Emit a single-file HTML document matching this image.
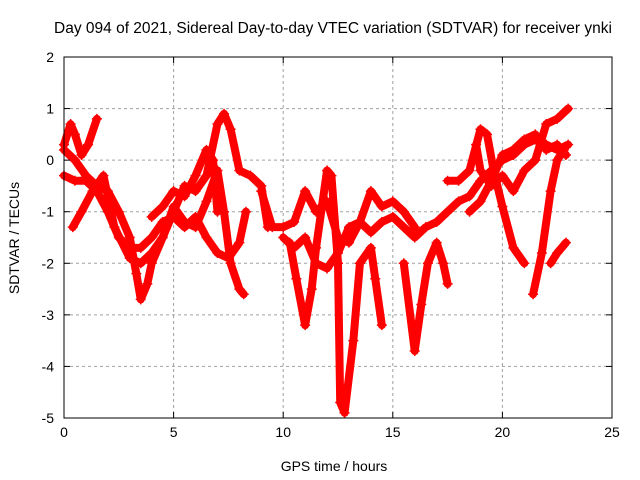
<!DOCTYPE html>
<html><head><meta charset="utf-8"><style>
body{margin:0;background:#fff}
svg{display:block;font-family:"Liberation Sans",sans-serif}
</style></head><body>
<svg id="chart" width="640" height="480">
<text x="333" y="33" text-anchor="middle" font-size="15.5">Day 094 of 2021, Sidereal Day-to-day VTEC variation (SDTVAR) for receiver ynki</text>
<text x="334" y="471" text-anchor="middle" font-size="14">GPS time / hours</text>
<text transform="translate(19,238) rotate(-90)" text-anchor="middle" font-size="14">SDTVAR / TECUs</text>
<g id="grid"></g><g id="series"></g><g id="axes"></g>
</svg>
<script>
const xTicks=[0,5,10,15,20,25];
const yTicks=[2,1,0,-1,-2,-3,-4,-5];
const tracks=[
[[0,0.3],[0.3,0.7],[0.5,0.5],[0.8,0.1],[1.1,0.3],[1.5,0.8]],
[[0,0.2],[0.5,0],[1,-0.3],[1.5,-0.5],[2,-0.6],[2.5,-1],[3,-1.5],[3.3,-2.2],[3.5,-2.7],[3.8,-2.4],[4,-2],[4.5,-1.5],[5,-1],[5.5,-0.5],[6,-0.6],[6.5,-0.3],[7,0.7],[7.3,0.9],[7.6,0.6],[8,-0.2],[8.5,-0.3],[9,-0.5],[9.3,-1.3]],
[[0,-0.3],[0.5,-0.4],[1,-0.4],[1.5,-0.6],[2,-1],[2.5,-1.5],[3,-1.7],[3.5,-1.7],[4,-1.5],[4.5,-1.2],[5,-1.1],[5.5,-1.3],[6,-1.1],[6.5,-1.5],[7,-1.8],[7.5,-1.9],[8,-1.6],[8.3,-1]],
[[0.4,-1.3],[0.8,-1],[1.3,-0.6],[1.8,-0.3],[2.3,-1.3],[3,-1.9],[3.5,-2],[4,-1.8],[4.5,-1.5],[5,-0.9],[5.5,-1.2],[6,-1.3],[6.5,-0.8],[7,-0.2],[7.3,-1],[7.6,-2],[8,-2.5],[8.2,-2.6]],
[[4,-1.1],[4.5,-0.9],[5,-0.6],[5.5,-0.7],[6,-0.3],[6.5,0.2],[6.8,0],[7,-1]],
[[9,-0.6],[9.5,-1.3],[10,-1.3],[10.5,-1.2],[11,-0.6],[11.5,-1],[12,-0.8],[12.5,-1.5],[13,-1.6],[13.5,-1.2],[14,-1.4],[14.5,-1.2],[15,-1.1],[15.5,-1.3],[16,-1.5],[16.5,-1.3],[17,-1.2],[17.5,-1],[18,-0.8],[18.5,-0.7],[19,-0.4],[19.5,-0.2],[20,0],[20.5,0.1],[21,0.3],[21.5,0.4],[22,0.3],[22.5,0.2],[23,0.3]],
[[10.3,-1.6],[10.6,-2.3],[11,-3.2],[11.3,-2.5],[11.5,-1.7],[12,-0.2],[12.2,-0.3],[12.5,-2],[12.6,-4.7],[12.8,-4.9],[13.2,-3.5],[13.5,-2],[14,-1.7],[14.2,-2.3],[14.5,-3.2]],
[[15.5,-2],[16,-3.7],[16.3,-2.8],[16.6,-2],[17,-1.6],[17.3,-2],[17.5,-2.4]],
[[10,-1.5],[10.5,-1.7],[11,-1.5],[11.5,-2],[12,-2.1],[12.5,-1.8],[13,-1.3],[13.5,-1.2],[14,-0.6],[14.5,-0.9],[15,-0.8],[15.5,-1],[16,-1.3]],
[[17.5,-0.4],[18,-0.4],[18.5,-0.2],[19,0.6],[19.3,0.5],[19.6,-0.2],[20,-0.9],[20.5,-1.7],[21,-2]],
[[21.4,-2.6],[21.8,-1.8],[22.2,-0.6],[22.5,0],[22.8,0.2]],
[[18.8,0.3],[19,-0.2],[19.5,-0.5],[20,-0.3],[20.5,-0.6],[21,-0.2],[21.5,0],[22,0.7],[22.5,0.8],[23,1]],
[[18.5,-1],[19,-0.8],[19.5,-0.4],[20,0.1],[20.5,0.2],[21,0.4],[21.5,0.5],[22,0.2],[22.5,0.3],[22.9,0.1]],
[[22.2,-2],[22.5,-1.8],[22.9,-1.6]]
];
const X0=64,X1=612,Y0=418,Y1=57;
const sx=t=>X0+(t-0)/(25-0)*(X1-X0);
const sy=v=>Y0-(v+5)/7*(Y0-Y1);
const NS="http://www.w3.org/2000/svg";
function mk(tag,attrs,parent){const e=document.createElementNS(NS,tag);for(const k in attrs)e.setAttribute(k,attrs[k]);parent.appendChild(e);return e;}
const grid=document.getElementById('grid'),axes=document.getElementById('axes'),ser=document.getElementById('series');
xTicks.forEach(t=>{
 if(t>0&&t<25){const l=mk('line',{x1:sx(t),x2:sx(t),y1:Y1,y2:Y0,stroke:'#a0a0a0','stroke-dasharray':'3,3'},grid);
 }
 const tx=mk('text',{x:sx(t),y:Y0+19,'text-anchor':'middle','font-size':14},axes);tx.textContent=t;
 
 mk('line',{x1:sx(t),x2:sx(t),y1:Y0,y2:Y0-6,stroke:'#000'},axes);
 mk('line',{x1:sx(t),x2:sx(t),y1:Y1,y2:Y1+6,stroke:'#000'},axes);
});
yTicks.forEach(v=>{
 if(v>-5&&v<2){const l=mk('line',{x1:X0,x2:X1,y1:sy(v),y2:sy(v),stroke:'#a0a0a0','stroke-dasharray':'3,3'},grid);
 }
 const tx=mk('text',{x:X0-10,y:sy(v)+5,'text-anchor':'end','font-size':14},axes);tx.textContent=v;
 
 mk('line',{x1:X0,x2:X0+6,y1:sy(v),y2:sy(v),stroke:'#000'},axes);
 mk('line',{x1:X1,x2:X1-6,y1:sy(v),y2:sy(v),stroke:'#000'},axes);
});
const fr=mk('rect',{x:X0,y:Y1,width:X1-X0,height:Y0-Y1,fill:'none',stroke:'#000'},axes);

tracks.forEach((tr,i)=>{
 const pl=mk('polyline',{points:tr.map(p=>sx(p[0])+','+sy(p[1])).join(' '),fill:'none',stroke:'#f00','stroke-width':8,'stroke-linejoin':'round','stroke-linecap':'round'},ser);
 
 
 tr.forEach(p=>{
  const x=sx(p[0]),y=sy(p[1]);
  const m=mk('path',{d:`M${x-5},${y}H${x+5}M${x},${y-5}V${y+5}`,stroke:'#f00','stroke-width':1.5},ser);
  
  
 });
});
</script>
</body></html>
